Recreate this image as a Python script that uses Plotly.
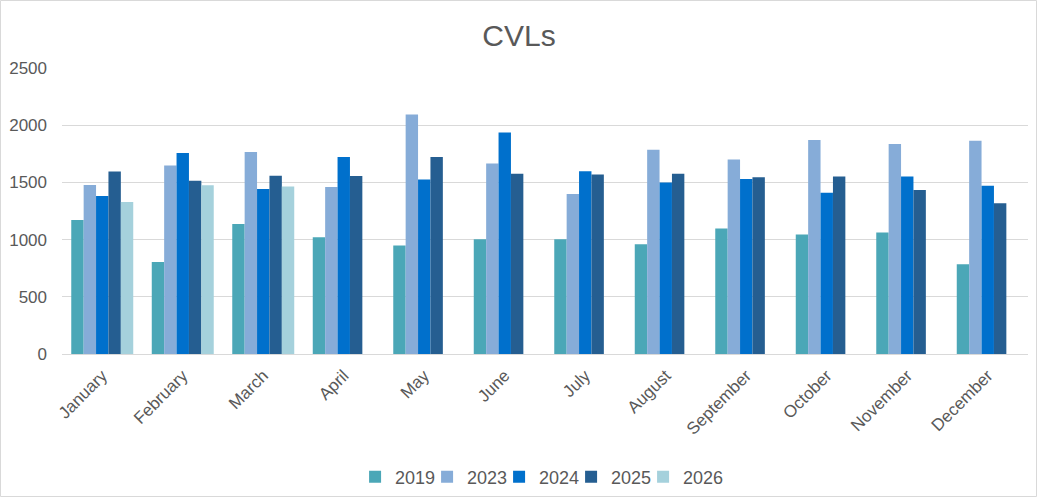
import plotly.graph_objects as go

months = ['January', 'February', 'March', 'April', 'May', 'June', 'July',
          'August', 'September', 'October', 'November', 'December']

cvl_2019 = [1171, 805, 1137, 1020, 948, 1003, 1003, 959, 1096, 1044, 1061, 784]
cvl_2023 = [1477, 1648, 1765, 1459, 2093, 1666, 1398, 1786, 1700, 1870, 1835, 1864]
cvl_2024 = [1381, 1756, 1442, 1721, 1526, 1936, 1597, 1500, 1529, 1410, 1552, 1471]
cvl_2025 = [1596, 1515, 1558, 1555, 1721, 1576, 1568, 1576, 1544, 1552, 1433, 1318]
cvl_2026 = [1328, 1474, 1465, None, None, None, None, None, None, None, None, None]

series = [
    ('2019', cvl_2019, '#4BA7B7'),
    ('2023', cvl_2023, '#86ACD8'),
    ('2024', cvl_2024, '#0070CC'),
    ('2025', cvl_2025, '#255E91'),
    ('2026', cvl_2026, '#A5D1DC'),
]

W, H = 1038, 498
ml, mr, mt, mb = 62, 10, 68, 144
pw, ph = W - ml - mr, H - mt - mb

fig = go.Figure()
for name, vals, color in series:
    fig.add_trace(go.Bar(x=months, y=vals, name=name, marker_color=color,
                         marker_line_width=0))

# empty spacer entry so the last legend label is not clipped
fig.add_trace(go.Scatter(x=[None], y=[None], mode='markers', name='',
                         marker=dict(color='rgba(0,0,0,0)'),
                         hoverinfo='skip', showlegend=True))

fig.update_layout(
    width=W, height=H,
    margin=dict(l=ml, r=mr, t=mt, b=mb, autoexpand=False),
    paper_bgcolor='white', plot_bgcolor='white',
    barmode='group', bargap=0.23, bargroupgap=0,
    font=dict(family='Liberation Sans, Arial', color='#595959', size=17),
    title=dict(text='CVLs', x=0.5, xref='container', xanchor='center',
               y=1 - 35 / H, yanchor='middle',
               font=dict(size=30, color='#595959')),
    legend=dict(orientation='h', x=0.527, xanchor='center',
                y=-(477 - mt - ph) / ph, yanchor='middle',
                font=dict(size=18, color='#595959'),
                itemwidth=30, entrywidth=27, traceorder='normal'),
    showlegend=True,
    shapes=[dict(type='rect', xref='paper', yref='paper',
                 x0=-(ml - 0.5) / pw, x1=(W - 1.5 - ml) / pw,
                 y0=-(mb - 1.5) / ph, y1=(ph + mt - 0.5) / ph,
                 line=dict(color='#D9D9D9', width=1), layer='below')],
)
fig.update_yaxes(range=[0, 2500], dtick=500, gridcolor='#D9D9D9',
                 zeroline=False, showline=False, ticks='', automargin=False,
                 ticklabelstandoff=14,
                 tickfont=dict(size=17, color='#595959'))
fig.update_xaxes(showline=True, linecolor='#D9D9D9', linewidth=1,
                 tickangle=-45, ticks='', automargin=False,
                 ticklabelstandoff=4,
                 tickfont=dict(size=17, color='#595959'))

fig.write_html('out.html', config={'displayModeBar': False},
               post_script="document.body.style.margin='0';")
